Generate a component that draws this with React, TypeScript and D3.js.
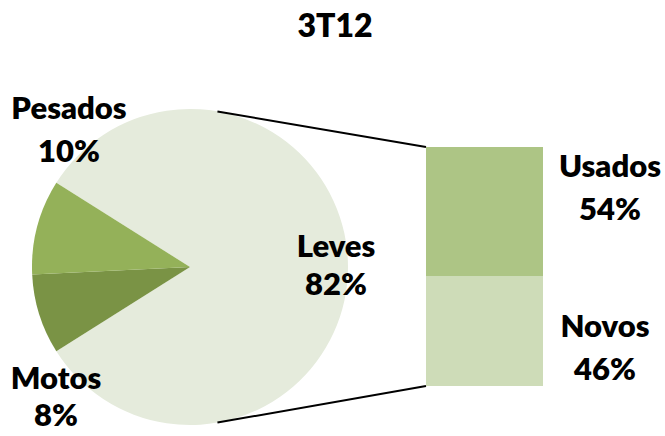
import React from "react";
import * as d3 from "d3";

const title = "3T12";
const pieCategories = ["Leves", "Motos", "Pesados"];
const pieValues = [82.1, 8.2, 9.7];
const pieLabels = ["82%", "8%", "10%"];
const pieColors = ["#E5EBDC", "#7A9345", "#94B159"];

const barCategories = ["Novos", "Usados"];
const barValues = [46, 54];
const barLabels = ["46%", "54%"];
const barColors = ["#CEDCB8", "#ADC585"];

const W = 665;
const H = 436;
const cx = 190;
const cy = 267;
const R = 158;

const barX0 = 426;
const barX1 = 543;
const barTop = 147;
const barBottom = 386;

// label positions (layout only)
const pieLabelPos: Record<string, { x: number; y1: number; y2: number }> = {
  Leves: { x: 336, y1: 257, y2: 295 },
  Motos: { x: 56, y1: 389, y2: 426 },
  Pesados: { x: 69, y1: 119, y2: 162 },
};
const barLabelPos: Record<string, { x: number; y1: number; y2: number }> = {
  Usados: { x: 610, y1: 177, y2: 220 },
  Novos: { x: 605, y1: 337, y2: 380 },
};

export default function App() {
  const total = d3.sum(pieValues);
  const levesFrac = pieValues[0] / total;
  const start = Math.PI / 2 - levesFrac * Math.PI;
  const pie = d3
    .pie<number>()
    .sort(null)
    .startAngle(start)
    .endAngle(start + 2 * Math.PI);
  const arcs = pie(pieValues);
  const arc = d3.arc<d3.PieArcDatum<number>>().innerRadius(0).outerRadius(R);

  const y = d3.scaleLinear().domain([0, d3.sum(barValues)]).range([barBottom, barTop]);
  const stacked: { cat: string; v0: number; v1: number; color: string; label: string }[] = [];
  let acc = 0;
  barValues.forEach((v, i) => {
    stacked.push({ cat: barCategories[i], v0: acc, v1: acc + v, color: barColors[i], label: barLabels[i] });
    acc += v;
  });

  const connAngle = (10 * Math.PI) / 180;
  const topPt = [cx + R * Math.sin(connAngle), cy - R * Math.cos(connAngle)];
  const botPt = [cx + R * Math.sin(Math.PI - connAngle), cy - R * Math.cos(Math.PI - connAngle)];

  const font = "Lato, 'DejaVu Sans', sans-serif";
  const labelStyle = { fontFamily: font, fontWeight: 800, fontSize: 31 } as const;

  return (
    <svg width={W} height={H} style={{ position: "absolute", left: 0, top: 0, background: "#fff" }}>
      <text x={335} y={37} textAnchor="middle" fontFamily={font} fontWeight={800} fontSize={32} fill="#000">
        {title}
      </text>
      <g transform={`translate(${cx},${cy})`}>
        {arcs.map((a, i) => (
          <path key={pieCategories[i]} d={arc(a) || ""} fill={pieColors[i]} />
        ))}
      </g>
      {stacked.map((s) => (
        <rect key={s.cat} x={barX0} width={barX1 - barX0} y={y(s.v1)} height={y(s.v0) - y(s.v1)} fill={s.color} />
      ))}
      <line x1={topPt[0]} y1={topPt[1]} x2={barX0} y2={y(acc)} stroke="#000" strokeWidth={2} />
      <line x1={botPt[0]} y1={botPt[1]} x2={barX0} y2={y(0)} stroke="#000" strokeWidth={2} />
      {pieCategories.map((c, i) => {
        const p = pieLabelPos[c];
        return (
          <g key={c} style={labelStyle} fill="#000" textAnchor="middle">
            <text x={p.x} y={p.y1}>{c}</text>
            <text x={p.x} y={p.y2}>{pieLabels[i]}</text>
          </g>
        );
      })}
      {stacked.map((s) => {
        const p = barLabelPos[s.cat];
        return (
          <g key={s.cat} style={labelStyle} fill="#000" textAnchor="middle">
            <text x={p.x} y={p.y1}>{s.cat}</text>
            <text x={p.x} y={p.y2}>{s.label}</text>
          </g>
        );
      })}
    </svg>
  );
}
